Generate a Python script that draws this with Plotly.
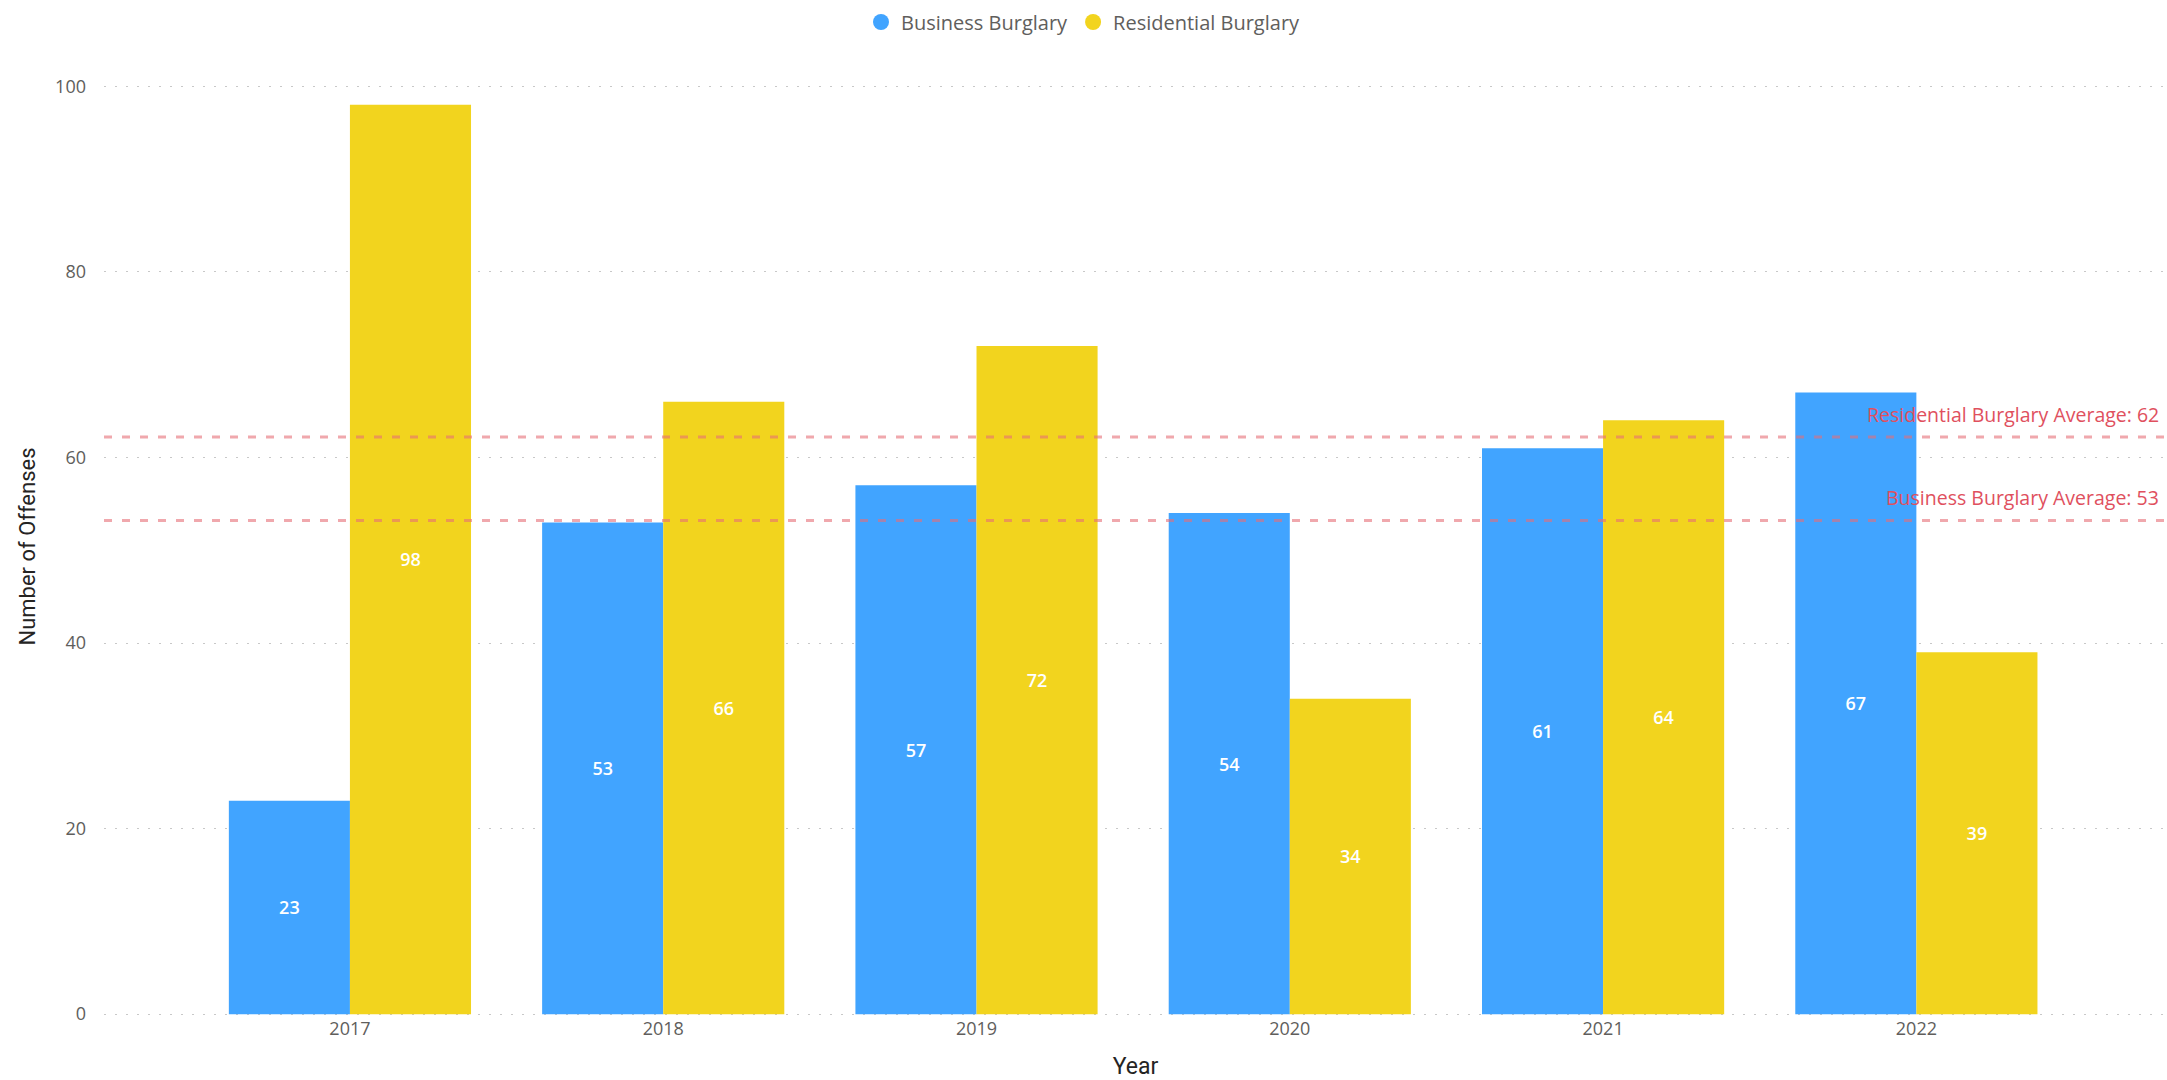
import plotly.graph_objects as go

years = ["2017", "2018", "2019", "2020", "2021", "2022"]
business = [23, 53, 57, 54, 61, 67]
residential = [98, 66, 72, 34, 64, 39]
avg_names = ["Business Burglary Average", "Residential Burglary Average"]
avg_values = [53.2, 62.2]
y_ticks = [0, 20, 40, 60, 80, 100]

BLUE = "#41A4FF"
YELLOW = "#F2D41E"
RED_LINE = "rgba(230,110,118,0.6)"
RED_TEXT = "#E0505E"
FONT = "Open Sans, Noto Sans, sans-serif"
TITLE_FONT = "Roboto, sans-serif"

fig = go.Figure()
for nm, vals, col in [("Business Burglary", business, BLUE), ("Residential Burglary", residential, YELLOW)]:
    fig.add_trace(go.Bar(x=years, y=vals, name=nm, marker_color=col,
                         marker_line_width=0, texttemplate="%{y}",
                         textposition="inside", insidetextanchor="middle",
                         textfont=dict(color="white", size=18, family=FONT, weight=600),
                         showlegend=False))
# legend entries with circle markers
for nm, col in [("Business Burglary", BLUE), ("Residential Burglary", YELLOW)]:
    fig.add_trace(go.Scatter(x=[None], y=[None], mode="markers", name=nm,
                             marker=dict(symbol="circle", size=17, color=col)))

for nm, v in zip(avg_names, avg_values):
    fig.add_shape(type="line", xref="paper", x0=0, x1=1, yref="y", y0=v, y1=v,
                  line=dict(color=RED_LINE, width=3, dash="8px,10px"), layer="above")
    fig.add_annotation(xref="paper", x=0.997, yref="y", y=v, yshift=23,
                       text=f"{nm}: {round(v)}", showarrow=False, xanchor="right",
                       font=dict(color=RED_TEXT, size=19.5, family=FONT))

fig.update_layout(
    width=2167, height=1080,
    margin=dict(l=104, r=0, t=77, b=64),
    paper_bgcolor="white", plot_bgcolor="white",
    barmode="group", bargap=0.227, bargroupgap=0,
    font=dict(family=FONT, color="#605E5C"),
    legend=dict(orientation="h", x=0.5, xanchor="center", xref="container",
                y=1 - 22 / 1080, yanchor="middle",
                yref="container", font=dict(size=20, color="#605E5C"),
                itemwidth=30, tracegroupgap=0),
    xaxis=dict(type="category", range=[-0.785, 5.8], showgrid=False, showline=False,
               zeroline=False, ticks="", tickfont=dict(size=18, color="#605E5C"),
               automargin=False,
               title=dict(text="Year", font=dict(size=23, color="#252423", family=TITLE_FONT),
                          standoff=21)),
    yaxis=dict(range=[-0.2, 101], tickvals=y_ticks, showgrid=True, gridcolor="#C8C8C8",
               griddash="2px,9px", gridwidth=1, zeroline=False, showline=False,
               tickfont=dict(size=18, color="#605E5C"), ticks="", ticklabelstandoff=17,
               automargin=False,
               title=dict(text="Number of Offenses", font=dict(size=22, color="#252423", family=TITLE_FONT),
                          standoff=13)),
)

fig.write_html("out.html", config={"displayModeBar": False},
               post_script="document.body.style.margin='0';document.body.style.overflow='hidden';")
